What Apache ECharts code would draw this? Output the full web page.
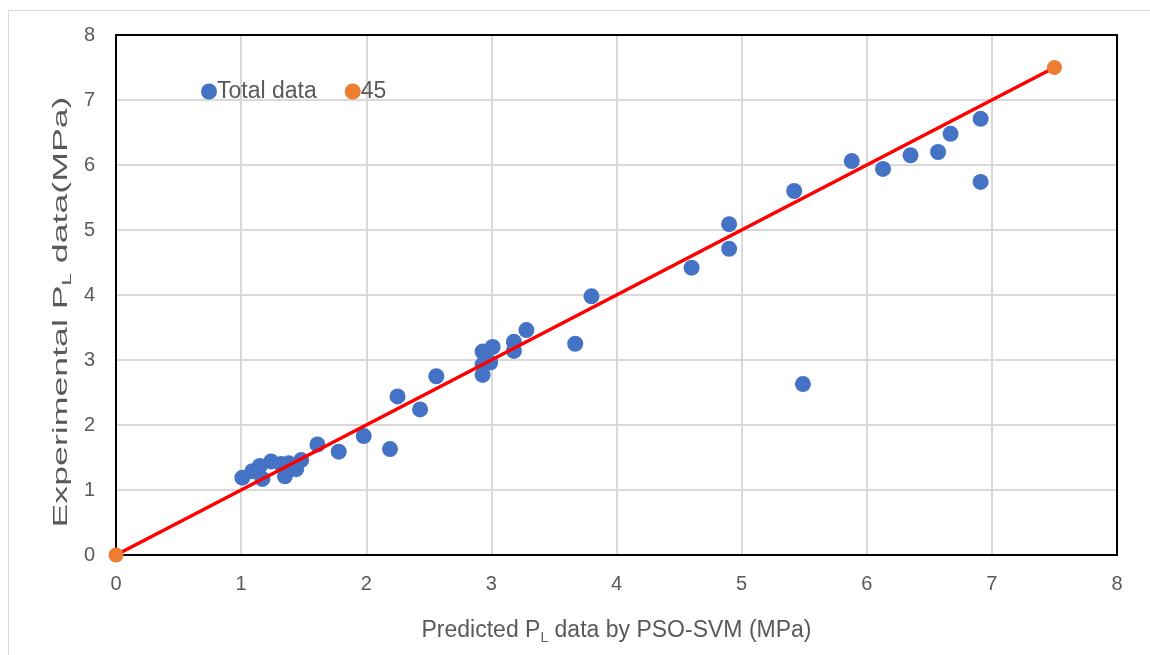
<!DOCTYPE html>
<html>
<head>
<meta charset="utf-8">
<script src="https://cdn.jsdelivr.net/npm/echarts@6/dist/echarts.min.js"></script>
<style>
  html, body { margin: 0; padding: 0; background: #fff; }
  #chart { width: 1150px; height: 655px; }
</style>
</head>
<body>
<div id="chart"></div>
<script>
// Predicted (x) vs Experimental (y) P_L data, MPa
const predicted = [1.01, 1.09, 1.15, 1.17, 1.24, 1.32, 1.38, 1.35, 1.44, 1.48, 1.61, 1.78, 1.98, 2.19,
  2.25, 2.43, 2.56, 2.93, 3.01, 2.93, 2.99, 2.93, 3.18, 3.18, 3.28, 3.67, 3.80,
  4.60, 4.90, 4.90, 5.42, 5.49, 5.88, 6.13, 6.35, 6.57, 6.67, 6.91, 6.91];
const experimental = [1.19, 1.29, 1.37, 1.17, 1.44, 1.40, 1.41, 1.21, 1.32, 1.46, 1.70, 1.59, 1.83, 1.63,
  2.44, 2.24, 2.75, 3.13, 3.20, 2.93, 2.96, 2.77, 3.28, 3.14, 3.46, 3.25, 3.98,
  4.42, 5.09, 4.71, 5.60, 2.63, 6.06, 5.94, 6.15, 6.20, 6.48, 6.71, 5.74];
const lineX = [0, 7.5];
const lineY = [0, 7.5];
const seriesNames = ['Total data', '45'];
const xTitle = 'Predicted P{sub|L} data by PSO-SVM (MPa)';
const yTitle = 'Experimental P{sub|L} data(MPa)';

const chart = echarts.init(document.getElementById('chart'), null, { renderer: 'canvas' });
const txt = '#595959';
const font = 'Liberation Sans, Arial, sans-serif';

chart.setOption({
  animation: false,
  backgroundColor: '#fff',
  textStyle: { fontFamily: font },
  graphic: [
    { type: 'line', z: 0, shape: { x1: 8.5, y1: 10.5, x2: 1150, y2: 10.5 }, style: { stroke: '#d9d9d9', lineWidth: 1 } },
    { type: 'line', z: 0, shape: { x1: 8.5, y1: 10.5, x2: 8.5, y2: 655 }, style: { stroke: '#d9d9d9', lineWidth: 1 } },
    { type: 'rect', z: 1, shape: { x: 116, y: 35, width: 1001, height: 520 }, style: { fill: null, stroke: '#000', lineWidth: 2 } },
    {
      type: 'text', z: 1, x: 61, y: 312, rotation: Math.PI / 2, scaleX: 1.7,
      style: {
        text: yTitle, fill: txt, fontSize: 21, fontFamily: font,
        align: 'center', verticalAlign: 'middle',
        rich: { sub: { fontSize: 13, fill: txt, fontFamily: font, padding: [12, 0, 0, 0] } }
      }
    }
  ],
  grid: { left: 116, right: 33, top: 35, bottom: 100 },
  legend: {
    left: 196, top: 75,
    itemWidth: 16, itemHeight: 16, itemGap: 28,
    textStyle: { color: txt, fontSize: 23, fontFamily: font, padding: [0, 0, 0, -5] },
    data: [
      { name: seriesNames[0], icon: 'circle' },
      { name: seriesNames[1], icon: 'circle', itemStyle: { color: '#ED7D31' } }
    ]
  },
  xAxis: {
    type: 'value', min: 0, max: 8, interval: 1,
    axisLine: { show: true, lineStyle: { color: '#000', width: 2 } },
    axisTick: { show: false },
    splitLine: { show: true, lineStyle: { color: '#d9d9d9', width: 2 } },
    axisLabel: { color: txt, fontSize: 20, margin: 19, fontFamily: font },
    name: xTitle,
    nameLocation: 'middle', nameGap: 62,
    nameTextStyle: {
      color: txt, fontSize: 23, fontFamily: font,
      rich: { sub: { fontSize: 14, color: txt, fontFamily: font, padding: [14, 0, 0, 0] } }
    }
  },
  yAxis: {
    type: 'value', min: 0, max: 8, interval: 1,
    axisLine: { show: true, lineStyle: { color: '#000', width: 2 } },
    axisTick: { show: false },
    splitLine: { show: true, lineStyle: { color: '#d9d9d9', width: 2 } },
    axisLabel: { color: txt, fontSize: 20, margin: 21, fontFamily: font }
  },
  series: [
    {
      name: seriesNames[0], type: 'scatter',
      symbol: 'circle', symbolSize: 16,
      itemStyle: { color: '#4472C4', opacity: 1 },
      data: predicted.map((x, i) => [x, experimental[i]]),
      z: 3
    },
    {
      name: seriesNames[1], type: 'line',
      symbol: 'circle', symbolSize: 15, showSymbol: true,
      clip: false,
      itemStyle: { color: '#ED7D31' },
      lineStyle: { color: '#FF0000', width: 3.5 },
      data: lineX.map((x, i) => [x, lineY[i]]),
      z: 4
    }
  ]
});
</script>
</body>
</html>
